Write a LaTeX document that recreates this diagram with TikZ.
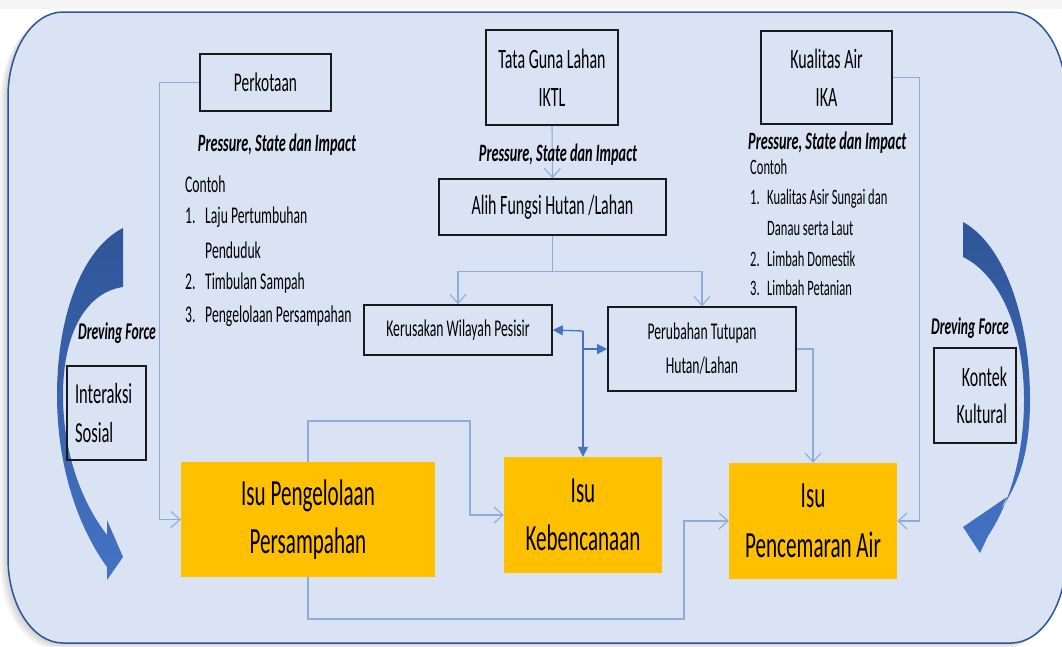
\documentclass[tikz,border=0pt]{standalone}
\usepackage{fontspec}
\setmainfont{Carlito}[FakeStretch=0.57]
\usetikzlibrary{arrows.meta}

\definecolor{panelfill}{HTML}{DAE3F3}
\definecolor{panelline}{HTML}{2F5597}
\definecolor{linkblue}{HTML}{8FAADC}
\definecolor{linkdark}{HTML}{4472C4}
\definecolor{issue}{HTML}{FFC000}
\definecolor{arrowtop}{HTML}{2F5597}
\definecolor{arrowbot}{HTML}{4472C4}

\newcommand\fs[2]{\fontsize{#1}{#2}\selectfont}

% outline of the rounded panel (elliptical corners)
\def\panelpath{(8,97) arc[start angle=180,end angle=270,x radius=55,y radius=85]
  -- (1011,12) arc[start angle=270,end angle=360,x radius=55,y radius=85]
  -- (1066,558) arc[start angle=0,end angle=90,x radius=55,y radius=85]
  -- (63,643) arc[start angle=90,end angle=180,x radius=55,y radius=85] -- cycle}

\tikzset{
  box/.style={draw=black!90, line width=1.6pt, inner sep=0pt, align=center},
  issuebox/.style={fill=issue, inner sep=0pt, align=center, font=\fs{37}{48}},
  conn/.style={draw=linkblue, line width=1.1pt, -{Straight Barb[length=9pt,width=16pt]}},
  fconn/.style={draw=linkdark, line width=1.3pt, -{Triangle[length=10pt,width=10pt]}},
  psi/.style={font=\fs{25}{30}\bfseries\itshape, inner sep=0pt},
  item/.style={font=\fs{24}{30}, anchor=west, inner sep=0pt},
  itemR/.style={font=\fs{22}{28}, anchor=west, inner sep=0pt},
  force/.style={font=\fs{24}{30}\bfseries\itshape, inner sep=0pt},
  forcearrow/.style={top color=arrowtop, bottom color=arrowbot},
}

\begin{document}
\begin{tikzpicture}[x=1pt,y=-1pt]
\useasboundingbox (0,0) rectangle (1062,646);
\clip (0,0) rectangle (1062,646);
\fill[white] (0,0) rectangle (1062,646);

% soft shadow round the panel
\foreach \d in {1,2,3,4,5}{
  \begin{scope}[shift={(-1.6*\d,1.2*\d)}]
    \fill[black, opacity=0.035] \panelpath;
  \end{scope}
}
\fill[black, opacity=0.04] (0,0) rectangle (1062,9);

% panel
\filldraw[fill=panelfill, draw=panelline, line width=1.5pt] \panelpath;

% curved driving-force arrows
\shade[forcearrow] (123,228) .. controls (80,250) and (57,320) .. (57,395)
  .. controls (57,470) and (80,530) .. (107,567) -- (107,580) -- (123,557)
  -- (107,520) -- (107,535) .. controls (80,500) and (63,450) .. (63,395)
  .. controls (63,330) and (88,292) .. (123,287) -- cycle;
\shade[forcearrow] (963,222) .. controls (1005,245) and (1030,320) .. (1030,400)
  .. controls (1030,450) and (1020,482) .. (1000,511) -- (1007,497) -- (963,527)
  -- (980,553) -- (988,536) .. controls (1012,500) and (1024,450) .. (1024,400)
  .. controls (1024,330) and (1000,275) .. (963,257) -- cycle;

% boxes
\node[box, minimum width=131pt, minimum height=57pt, font=\fs{27}{32}] (perk) at (265.5,82.5) {Perkotaan};
\node[box, minimum width=132pt, minimum height=95pt, font=\fs{28}{38}] (tata) at (552,77.5) {Tata Guna Lahan\\IKTL};
\node[box, minimum width=131pt, minimum height=93pt, font=\fs{28}{38}] (kual) at (826.5,77.5) {Kualitas Air\\IKA};
\node[box, minimum width=227pt, minimum height=56pt, font=\fs{28}{34}] (alih) at (552.5,207) {Alih Fungsi Hutan /Lahan};
\node[box, minimum width=188pt, minimum height=50pt, font=\fs{24}{30}] (keru) at (458,330) {Kerusakan Wilayah Pesisir};
\node[box, minimum width=188pt, minimum height=84pt, font=\fs{24}{34}] (peru) at (702,349) {Perubahan Tutupan\\Hutan/Lahan};
\node[box, minimum height=94pt, inner xsep=8pt, text width=63pt, align=left, font=\fs{29}{39}] (inter) at (106.5,413) {Interaksi\\Sosial};
\node[box, minimum height=95pt, inner xsep=9pt, text width=64pt, align=right, font=\fs{28}{37}] (kontek) at (975,395.5) {Kontek\\Kultural};

% issues
\node[issuebox, minimum width=254pt, minimum height=115pt] (isuP) at (308,519.5) {Isu Pengelolaan\\Persampahan};
\node[issuebox, minimum width=158pt, minimum height=116pt] (keben) at (583,515) {Isu\\Kebencanaan};
\node[issuebox, minimum width=168pt, minimum height=116pt, font=\fs{37}{50}] (pence) at (813,521) {Isu\\Pencemaran Air};

% connectors
\draw[conn] (perk.west) -- ++(-40,0) |- (isuP.west);
\draw[conn] (tata.south) -- (alih.north);
\draw[conn] (alih.south) -- ++(0,36) -| (keru.north);
\draw[conn] (alih.south) -- ++(0,36) -| (peru.north);
\draw[conn] (peru.east) -| (pence.north);
\draw[conn] (kual.east) -- ++(27,0) |- (pence.east);
\coordinate (kb) at (470,421);
\draw[conn] (isuP.north) |- (kb) |- (keben.west);
\coordinate (pb) at (684,619);
\draw[conn] (isuP.south) |- (pb) |- (pence.west);
\coordinate (jn) at (583,331);
\draw[fconn] (jn) -- (keru.east);
\draw[fconn] (jn) -- (keben.north);
\draw[fconn] (jn |- peru.west) -- (peru.west);

% annotations
\node[psi] (psiL) at (277,145) {Pressure, State dan Impact};
\node[psi] (psiM) at (558,155) {Pressure, State dan Impact};
\node[psi, anchor=west] (psiR) at (748,143) {Pressure, State dan Impact};

\node[item] (cL)  at (185,184) {Contoh};
\node[item] (l1)  at (185,217) {\makebox[20pt][l]{1.}Laju Pertumbuhan};
\node[item] (l1b) at (205,250) {Penduduk};
\node[item] (l2)  at (185,283) {\makebox[20pt][l]{2.}Timbulan Sampah};
\node[item] (l3)  at (185,316) {\makebox[20pt][l]{3.}Pengelolaan Persampahan};

\node[itemR] (cR)  at (750,167) {Contoh};
\node[itemR] (r1)  at (750,199) {\makebox[17pt][l]{1.}Kualitas Asir Sungai dan};
\node[itemR] (r1b) at (767,229) {Danau serta Laut};
\node[itemR] (r2)  at (750,259) {\makebox[17pt][l]{2.}Limbah Domestik};
\node[itemR] (r3)  at (750,288) {\makebox[17pt][l]{3.}Limbah Petanian};

\node[force] (dfL) at (117,333) {Dreving Force};
\node[force] (dfR) at (970,328) {Dreving Force};
\end{tikzpicture}
\end{document}
